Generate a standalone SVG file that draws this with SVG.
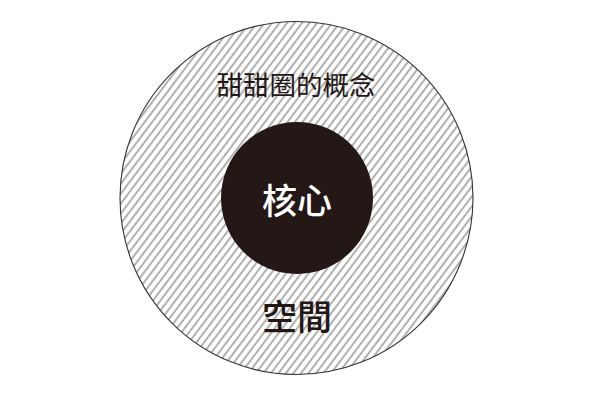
<svg xmlns="http://www.w3.org/2000/svg" width="600" height="400" viewBox="0 0 600 400">
<style>
.lbl{font-family:"Noto Sans CJK TC","Noto Sans CJK JP",sans-serif;text-anchor:middle}
</style>
<defs>
<pattern id="hatch" width="6" height="10" patternUnits="userSpaceOnUse" patternTransform="rotate(37)">
<line x1="3" y1="0" x2="3" y2="10" stroke="#454545" stroke-width="0.85"/>
</pattern>
</defs>
<rect width="600" height="400" fill="#ffffff"/>
<g id="space">
<circle cx="296.5" cy="198" r="176.5" fill="url(#hatch)" stroke="#333333" stroke-width="1.1"/>
<text class="lbl" x="296" y="94.5" font-size="26.5" font-weight="400" fill="#231815">甜甜圈的概念</text>
<text class="lbl" x="297" y="330" font-size="35" font-weight="500" fill="#231815">空間</text>
</g>
<g id="core">
<circle cx="297" cy="198" r="76" fill="#231815"/>
<text class="lbl" x="297" y="214" font-size="35" font-weight="500" fill="#ffffff">核心</text>
</g>
<g id="connectors"></g>
</svg>
